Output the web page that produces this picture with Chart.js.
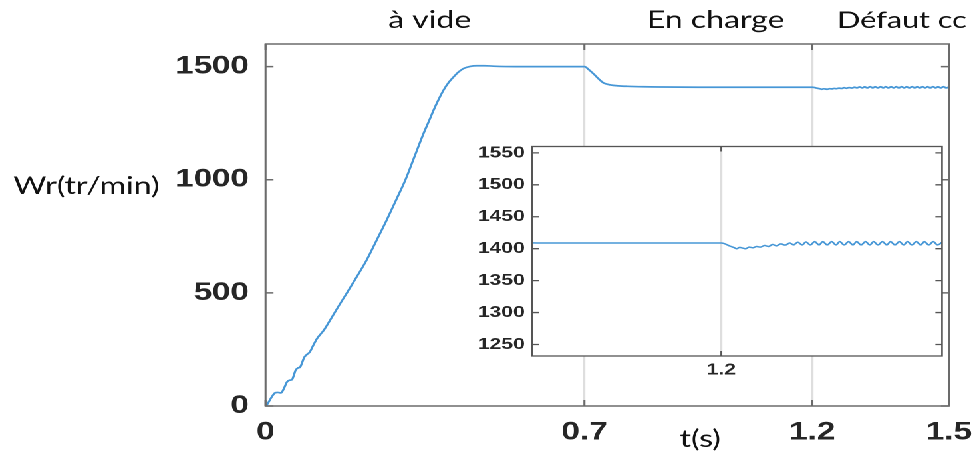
<!DOCTYPE html>
<html lang="fr">
<head>
<meta charset="utf-8">
<title>Wr(tr/min)</title>
<script src="https://cdn.jsdelivr.net/npm/chart.js@4.4.1/dist/chart.umd.min.js"></script>
<style>
  html, body { margin: 0; padding: 0; background: #fff; overflow: hidden; }
  /* the figure is drawn narrow and stretched horizontally, like the exported plot */
  #figure { position: relative; width: 736px; height: 457px; transform: scaleX(1.3302); transform-origin: 0 0; }
  #figure canvas { position: absolute; left: 0; top: 0; }
</style>
</head>
<body>
<div id="figure">
  <canvas id="speedChart" width="736" height="457"></canvas>
  <canvas id="zoomChart" width="736" height="457"></canvas>
</div>
<script>
// rotor speed (tr/min) against time (s)
const timeS = [
    0, 0.004, 0.012, 0.021, 0.027, 0.034, 0.041, 0.047, 0.053, 0.058,
    0.062, 0.066, 0.071, 0.076, 0.080, 0.085, 0.091, 0.097, 0.104, 0.113,
    0.121, 0.128, 0.142, 0.160, 0.178, 0.200, 0.222, 0.244, 0.266, 0.287,
    0.307, 0.327, 0.347, 0.360, 0.369, 0.380, 0.391, 0.402, 0.413, 0.424,
    0.435, 0.449, 0.464, 0.480, 0.500, 0.550, 0.600, 0.650, 0.700, 0.710,
    0.720, 0.731, 0.742, 0.757, 0.775, 0.794, 0.830, 0.870, 0.950, 1.050,
    1.150, 1.200, 1.204, 1.208, 1.212, 1.217, 1.221, 1.225, 1.229, 1.233,
    1.238, 1.243, 1.248, 1.253, 1.259, 1.264, 1.270, 1.275, 1.281, 1.287,
    1.293, 1.298, 1.304, 1.310, 1.315, 1.321, 1.327, 1.333, 1.338, 1.344,
    1.350, 1.356, 1.361, 1.367, 1.373, 1.379, 1.384, 1.390, 1.396, 1.402,
    1.407, 1.413, 1.419, 1.425, 1.430, 1.436, 1.442, 1.448, 1.453, 1.459,
    1.465, 1.471, 1.476, 1.482, 1.488, 1.494, 1.500
];
const speedRpm = [
    0, 8, 35, 58, 60, 58, 80, 106, 114, 116,
    135, 158, 168, 172, 190, 215, 228, 238, 265, 298,
    318, 335, 380, 440, 498, 570, 645, 733, 822, 912,
    999, 1102, 1205, 1265, 1308, 1355, 1397, 1430, 1455, 1477,
    1492, 1501, 1504, 1504, 1502, 1500, 1500, 1500, 1500, 1486,
    1468, 1446, 1428, 1419, 1415, 1413, 1411, 1410, 1409, 1409,
    1409, 1409, 1408, 1406, 1404, 1402, 1400, 1402, 1401, 1400,
    1402.5, 1401.5, 1403.5, 1402.5, 1405, 1403.5, 1406.5, 1404.5, 1407.5, 1405.5,
    1409, 1406, 1410, 1406, 1410.5, 1406, 1411, 1406, 1411, 1406,
    1411, 1406, 1411, 1406, 1411, 1406, 1411, 1406, 1411, 1406,
    1411, 1406, 1411, 1406, 1411, 1406, 1411, 1406, 1411, 1406,
    1411, 1406, 1411, 1406, 1411, 1406, 1410
];

const mainXTicks = [0, 0.7, 1.2, 1.5];
const mainXLabels = ['0', '0.7', '1.2', '1.5'];
const mainYTicks = [0, 500, 1000, 1500];
const zoomXTicks = [1.2];
const zoomXLabels = ['1.2'];
const zoomYTicks = [1250, 1300, 1350, 1400, 1450, 1500, 1550];
const phaseLabels = ['à vide', 'En charge', 'Défaut cc'];

const LINE_COLOR = '#4797d6';
const TICK_FONT = 'Liberation Sans, Arial, sans-serif';
const TEXT_FONT = 'Lato, "Open Sans", sans-serif';

const speedPoints = timeS.map((t, i) => ({ x: t, y: speedRpm[i] }));

// box around the plot area, inward tick marks on all four sides, extra texts
const framePlugin = {
    id: 'frame',
    beforeDraw(chart, args, opts) {
        if (!opts.fillArea) return;
        const { ctx, chartArea: a } = chart;
        ctx.save();
        ctx.fillStyle = '#fff';
        ctx.fillRect(a.left, a.top, a.right - a.left, a.bottom - a.top);
        ctx.restore();
    },
    afterDraw(chart, args, opts) {
        const { ctx, chartArea: a, scales } = chart;
        const len = opts.tickLength;
        ctx.save();
        ctx.strokeStyle = opts.color;
        ctx.lineWidth = opts.lineWidth;
        ctx.beginPath();
        scales.y.ticks.forEach(t => {
            const y = scales.y.getPixelForValue(t.value);
            ctx.moveTo(a.left, y); ctx.lineTo(a.left + len, y);
            ctx.moveTo(a.right, y); ctx.lineTo(a.right - len, y);
        });
        scales.x.ticks.forEach(t => {
            const x = scales.x.getPixelForValue(t.value);
            ctx.moveTo(x, a.top); ctx.lineTo(x, a.top + len);
            ctx.moveTo(x, a.bottom); ctx.lineTo(x, a.bottom - len);
        });
        ctx.stroke();
        ctx.strokeRect(a.left, a.top, a.right - a.left, a.bottom - a.top);

        (opts.texts || []).forEach(t => {
            ctx.font = t.font;
            ctx.fillStyle = '#111';
            ctx.textAlign = t.align;
            ctx.textBaseline = 'alphabetic';
            ctx.fillText(t.text, t.x, t.y);
        });
        ctx.restore();
    }
};

function linearAxis(min, max, ticks, labels, fontSize, padding, fitSize, gridOn) {
    return {
        type: 'linear',
        min: min,
        max: max,
        afterBuildTicks: scale => { scale.ticks = ticks.map(v => ({ value: v })); },
        afterFit: scale => {
            if (scale.isHorizontal()) scale.height = fitSize; else scale.width = fitSize;
            // labels may hang over the plot edges, the layout padding already leaves room
            scale.paddingLeft = scale.paddingRight = scale.paddingTop = scale.paddingBottom = 0;
        },
        border: { display: false },
        grid: { display: gridOn, drawTicks: false, color: '#dedede', lineWidth: 1.6 },
        ticks: {
            autoSkip: false,
            maxRotation: 0,
            padding: padding,
            color: '#262626',
            font: { family: TICK_FONT, size: fontSize, weight: 'bold' },
            callback: (value, index) => labels ? labels[index] : String(value)
        }
    };
}

new Chart(document.getElementById('speedChart'), {
    type: 'line',
    data: {
        datasets: [{
            data: speedPoints,
            borderColor: LINE_COLOR,
            borderWidth: 1.7,
            pointRadius: 0,
            cubicInterpolationMode: 'monotone',
            fill: false
        }]
    },
    options: {
        responsive: false,
        animation: false,
        devicePixelRatio: 2,
        layout: { padding: { left: 0, right: 22.6, top: 44, bottom: 0 } },
        plugins: {
            legend: { display: false },
            tooltip: { enabled: false },
            frame: {
                color: '#6b6b6b',
                lineWidth: 1.5,
                tickLength: 6,
                texts: [
                    { text: phaseLabels[0], x: 323, y: 28, align: 'center', font: '24px ' + TEXT_FONT },
                    { text: phaseLabels[1], x: 538, y: 28, align: 'center', font: '24px ' + TEXT_FONT },
                    { text: phaseLabels[2], x: 678, y: 28, align: 'center', font: '23px ' + TEXT_FONT },
                    { text: 'Wr(tr/min)', x: 10, y: 194, align: 'left', font: '24px ' + TEXT_FONT },
                    { text: 't(s)', x: 511, y: 447, align: 'left', font: '24px ' + TEXT_FONT }
                ]
            }
        },
        scales: {
            x: linearAxis(0, 1.5, mainXTicks, mainXLabels, 25, 11.5, 51, true),
            y: linearAxis(0, 1600, mainYTicks, null, 25, 12.4, 199.6, false)
        }
    },
    plugins: [framePlugin]
});

// enlarged view around the short-circuit fault
new Chart(document.getElementById('zoomChart'), {
    type: 'line',
    data: {
        datasets: [{
            data: speedPoints,
            borderColor: LINE_COLOR,
            borderWidth: 1.5,
            pointRadius: 0,
            cubicInterpolationMode: 'monotone',
            fill: false
        }]
    },
    options: {
        responsive: false,
        animation: false,
        devicePixelRatio: 2,
        layout: { padding: { left: 0, right: 27.8, top: 146.5, bottom: 0 } },
        plugins: {
            legend: { display: false },
            tooltip: { enabled: false },
            frame: { color: '#555', lineWidth: 1.3, tickLength: 5, fillArea: true }
        },
        scales: {
            x: linearAxis(0.943, 1.5, zoomXTicks, zoomXLabels, 16, 4.5, 101, true),
            y: linearAxis(1232, 1560, zoomYTicks, null, 16, 5.3, 400, false)
        }
    },
    plugins: [framePlugin]
});
</script>
</body>
</html>
